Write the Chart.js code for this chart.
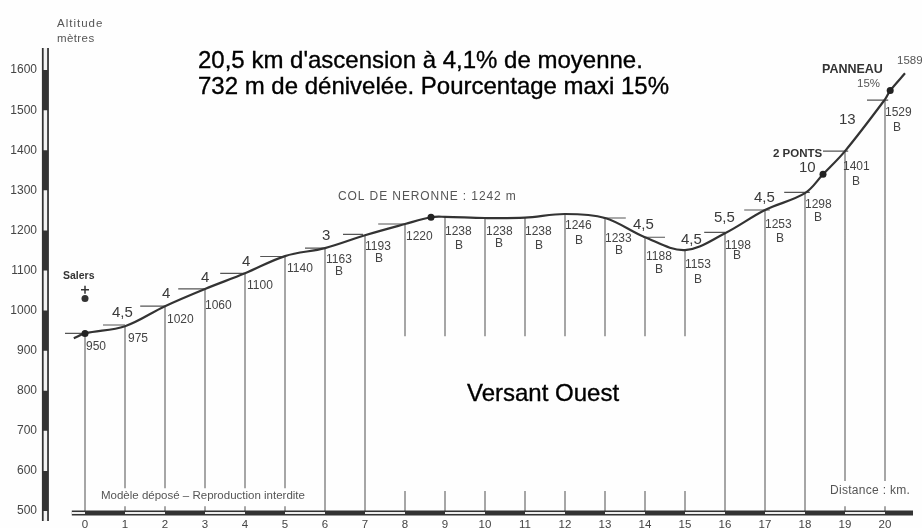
<!DOCTYPE html>
<html><head><meta charset="utf-8">
<style>html,body{margin:0;padding:0;background:#fefefe}canvas{display:block}</style>
<script src="https://cdn.jsdelivr.net/npm/chart.js@4/dist/chart.umd.min.js"></script>
</head><body><canvas id="c" width="922" height="528"></canvas>
<script>
// --- data ---
const kmTicks = [0,1,2,3,4,5,6,7,8,9,10,11,12,13,14,15,16,17,18,19,20];
const altTicks = [1600,1500,1400,1300,1200,1100,1000,900,800,700,600,500];
const profileKm  = [-0.28,0,1,2,3,4,5,6,7,8,8.65,9,10,11,12,13,14,15,16,17,18,18.45,19,20,20.13,20.5];
const profileAlt = [931,943,961,1011,1054,1093,1136,1156,1188,1216,1233,1234,1231,1232,1241,1231,1183,1151,1193,1251,1293,1340,1398,1527,1549,1592];
// drop lines from the profile to the km axis: km, altitude at the line, end of upper part, start of bottom stub
const dropKm    = [0,1,2,3,4,5,6,7,8,9,10,11,12,13,14,15,16,17,18,19,20];
const dropTop   = [943,961,1011,1054,1093,1136,1156,1188,1216,1234,1231,1232,1241,1231,1183,1151,1193,1251,1293,1398,1527];
const dropEnd   = [500,557,557,557,557,557,500,500,936,936,936,936,936,936,936,936,500,500,500,575,575];
const stubStart = [500,512,512,512,512,512,500,500,550,550,550,550,550,550,550,550,500,500,500,512,512];
// gradient shelves
const shelfFrom = [-0.5,0.45,1.38,2.33,3.38,4.38,5.5,6.45,7.33,12.95,13.95,15.48,16.48,17.48,18.45,19.55];
const shelfTo   = [0,1,2,3,4,4.95,6,6.95,8,13.52,14.5,16,17.12,18.12,19.08,20.08];
const shelfAlt  = [943,964,1011,1054,1093,1135,1156,1190,1216,1231,1183,1195,1251,1295,1398,1525];
// altitude and km rulers
const altDark  = [[1500,1600],[1300,1400],[1100,1200],[900,1000],[700,800],[500,600]];
const altLight = [[1600,1655],[1400,1500],[1200,1300],[1000,1100],[800,900],[600,700],[475,500]];
const kmDark   = [[0,1],[2,3],[4,5],[6,7],[8,9],[10,11],[12,13],[14,15],[16,17],[18,19],[20,20.7]];
const kmLight  = [[-0.33,0],[1,2],[3,4],[5,6],[7,8],[9,10],[11,12],[13,14],[15,16],[17,18],[19,20]];
const markerKm  = [0,8.65,18.45,20.13];
const markerAlt = [943,1233,1340,1549];
const salersKm  = [0,0];
const salersAlt = [1052,1030];
// texts
const titleLines = ["20,5 km d'ascension à 4,1% de moyenne.","732 m de dénivelée. Pourcentage maxi 15%"];
const captionText = "Versant Ouest";
const notes = [["Altitude",57,24,0,11.5,1],["mètres",57,39,0,11.5,0.4],["Salers",63,276,1,10.5,0],["COL DE NERONNE : 1242 m",338,197,0,12,0.9],
 ["PANNEAU",822,70,1,12.5,0],["15%",857,84,0,11.5,0],["2 PONTS",773,154,1,11.5,0],["1589",897,61,0,11.5,0],
 ["Modèle déposé – Reproduction interdite",101,496,0,11.5,0],["Distance : km.",830,491,0,12,0.3]];
const altLabels = [["950",86,347],["975",128,339],["1020",167,320],["1060",205,306],["1100",247,286],["1140",287,269],
 ["1163",326,260],["B",335,272],["1193",365,247],["B",375,259],["1220",406,237],["1238",445,232],["B",455,246],
 ["1238",486,232],["B",495,244],["1238",525,232],["B",535,246],["1246",565,226],["B",575,241],["1233",605,239],["B",615,251],
 ["1188",646,257],["B",655,270],["1153",685,265],["B",694,280],["1198",725,246],["B",733,256],["1253",765,225],["B",776,239],
 ["1298",805,205],["B",814,218],["1401",843,167],["B",852,182],["1529",885,113],["B",893,128]];
const gradeLabels = [["4,5",112,313],["4",162,294],["4",201,278],["4",242,262],["3",322,236],["4,5",633,225],["4,5",681,240],
 ["5,5",714,218],["4,5",754,198],["10",799,168],["13",839,120]];

// --- helpers ---
function pts(xs,ys){return xs.map((x,i)=>({x:x,y:ys[i]}));}
function spansY(list,km){const a=[];list.forEach(s=>{a.push({x:km,y:s[0]},{x:km,y:s[1]},{x:km,y:null});});return a;}
function spansX(list,alt){const a=[];list.forEach(s=>{a.push({x:s[0],y:alt},{x:s[1],y:alt},{x:s[1],y:null});});return a;}
function drops(){const a=[];dropKm.forEach((k,i)=>{a.push({x:k,y:dropTop[i]},{x:k,y:dropEnd[i]},{x:k,y:null});
  if(stubStart[i]>500)a.push({x:k,y:stubStart[i]},{x:k,y:495},{x:k,y:null});});return a;}
function shelves(){const a=[];shelfFrom.forEach((f,i)=>{a.push({x:f,y:shelfAlt[i]},{x:shelfTo[i],y:shelfAlt[i]},{x:f,y:null});});return a;}
function lineDs(data,color,w,extra){return Object.assign({data,borderColor:color,borderWidth:w,pointRadius:0,showLine:true,spanGaps:false,tension:0,clip:false},extra||{});}

const AX=-0.99, KB=495;
const textPlugin={id:'texts',afterDatasetsDraw(ch){
  const c=ch.ctx;c.save();c.textBaseline='middle';c.textAlign='left';
  c.filter='blur(0.45px)';
  const f='"Liberation Sans",Arial,sans-serif';
  notes.forEach(n=>{c.fillStyle=n[3]?'#333':'#555';c.font=(n[3]?'bold ':'')+n[4]+'px '+f;c.letterSpacing=n[5]+'px';c.fillText(n[0],n[1],n[2]);});
  c.letterSpacing='0px';
  c.font='12px '+f;c.fillStyle='#444';altLabels.forEach(n=>c.fillText(n[0],n[1],n[2]));
  c.font='15px '+f;c.fillStyle='#3a3a3a';gradeLabels.forEach(n=>c.fillText(n[0],n[1],n[2]));
  c.filter='none';
  c.fillStyle='#000';c.font='24px '+f;
  c.lineWidth=0.35;c.strokeStyle='#000';
  titleLines.forEach((t,i)=>{const y=61+i*26;c.fillText(t,198,y);c.strokeText(t,198,y);});
  c.fillText(captionText,467,394);c.strokeText(captionText,467,394);
  c.restore();
}};

new Chart(document.getElementById('c'),{
  type:'scatter',
  data:{datasets:[
    {data:[{x:salersKm[1],y:salersAlt[1]}],pointRadius:3.5,pointBackgroundColor:'#333',pointBorderWidth:0,showLine:false,clip:false},
    {data:[{x:salersKm[0],y:salersAlt[0]}],pointStyle:'cross',pointRadius:4,pointBorderColor:'#333',pointBorderWidth:1.5,showLine:false,clip:false},
    {data:pts(markerKm,markerAlt),pointRadius:3.5,pointBackgroundColor:'#222',pointBorderWidth:0,showLine:false,clip:false},
    lineDs(pts(profileKm,profileAlt),'#333',2.2,{tension:0.35}),
    lineDs(spansX(kmLight,KB),'#eee',2.2),
    lineDs(spansX(kmDark.concat(kmLight),KB),'#333',5),
    lineDs(spansY(altLight,AX),'#f2f2f2',3.5),
    lineDs(spansY(altDark.concat(altLight),AX),'#333',7),
    lineDs(shelves(),'#555',1.2),
    lineDs(drops(),'#777',1.3)
  ]},
  options:{
    responsive:false,animation:false,
    layout:{autoPadding:false,padding:{left:0,right:1,top:0,bottom:0}},
    plugins:{legend:{display:false},tooltip:{enabled:false},title:{display:false}},
    scales:{
      x:{type:'linear',min:-1.1,max:20.9,grid:{display:false,drawTicks:false},border:{display:false},
        afterBuildTicks(s){s.ticks=kmTicks.map(v=>({value:v}));},
        afterFit(s){s.height=14;},
        ticks:{autoSkip:false,maxRotation:0,padding:4,color:'#444',font:{family:'"Liberation Sans",Arial,sans-serif',size:11.5},callback:v=>String(v)}},
      y:{type:'linear',min:492.5,max:1747,grid:{display:false,drawTicks:false},border:{display:false},
        afterBuildTicks(s){s.ticks=altTicks.map(v=>({value:v}));},
        afterFit(s){s.width=41;},
        ticks:{autoSkip:false,padding:4,color:'#444',font:{family:'"Liberation Sans",Arial,sans-serif',size:12},callback:v=>String(v)}}
    }
  },
  plugins:[{id:'bg',beforeDraw(ch){const c=ch.ctx;c.save();c.fillStyle='#fefefe';c.fillRect(0,0,ch.width,ch.height);c.restore();}},textPlugin]
});
</script></body></html>
